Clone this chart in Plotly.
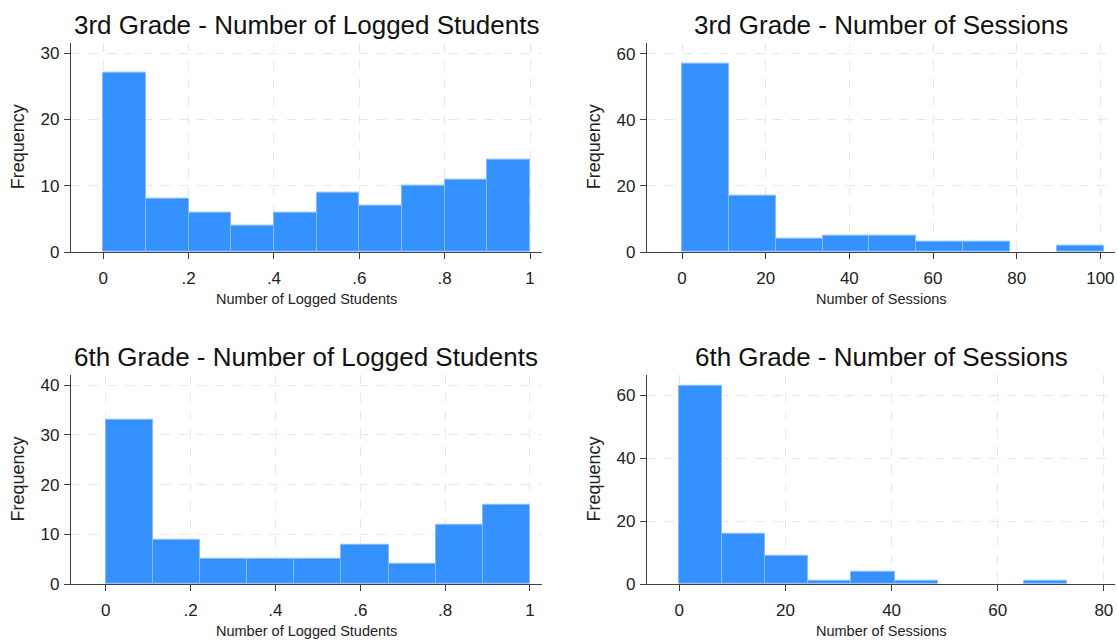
import plotly.graph_objects as go

# Histogram counts per bin (equal-width bins starting at 0)
g3_logged_counts = [27, 8, 6, 4, 6, 9, 7, 10, 11, 14]
g3_logged_start, g3_logged_width = 0.0, 0.1

g3_sessions_counts = [57, 17, 4, 5, 5, 3, 3, 0, 2]
g3_sessions_start, g3_sessions_width = 0.0, 100.8 / 9

g6_logged_counts = [33, 9, 5, 5, 5, 8, 4, 12, 16]
g6_logged_start, g6_logged_width = 0.0, 1 / 9

g6_sessions_counts = [63, 16, 9, 1, 4, 1, 0, 0, 1]
g6_sessions_start, g6_sessions_width = 0.0, 73 / 9

# Tick values and labels
logged_ticks = [0, 0.2, 0.4, 0.6, 0.8, 1]
logged_ticklabels = ["0", ".2", ".4", ".6", ".8", "1"]
g3_sessions_ticks = [0, 20, 40, 60, 80, 100]
g6_sessions_ticks = [0, 20, 40, 60, 80]

titles = [
    "3rd Grade - Number of Logged Students",
    "3rd Grade - Number of Sessions",
    "6th Grade - Number of Logged Students",
    "6th Grade - Number of Sessions",
]
xtitles = ["Number of Logged Students", "Number of Sessions",
           "Number of Logged Students", "Number of Sessions"]

W, H = 1117, 644
FONT = "Liberation Sans, Arial, sans-serif"
BAR_FILL = "#3591fe"
BAR_LINE = "#86bcff"
AXIS_COLOR = "#404040"
GRID_COLOR = "#e8e8e8"

# Plot-area boxes in pixels: (left, right, top, bottom)
boxes = [
    (71, 541.7, 43.3, 256),
    (647, 1115, 43.3, 256),
    (71, 541.7, 380.7, 593.3),
    (647, 1115, 380.7, 593.3),
]

panels = [
    (g3_logged_counts, g3_logged_start, g3_logged_width,
     [-0.0757, 1.0274], [0, 31.6], logged_ticks, logged_ticklabels, [0, 10, 20, 30]),
    (g3_sessions_counts, g3_sessions_start, g3_sessions_width,
     [-8.37, 103.5], [0, 63.3], g3_sessions_ticks,
     [str(t) for t in g3_sessions_ticks], [0, 20, 40, 60]),
    (g6_logged_counts, g6_logged_start, g6_logged_width,
     [-0.0818, 1.0276], [0, 42.1], logged_ticks, logged_ticklabels, [0, 10, 20, 30, 40]),
    (g6_sessions_counts, g6_sessions_start, g6_sessions_width,
     [-6.09, 82.1], [0, 66.6], g6_sessions_ticks,
     [str(t) for t in g6_sessions_ticks], [0, 20, 40, 60]),
]

fig = go.Figure()
annotations = []


def px_x(x):
    return x / W


def px_y(y):
    return 1 - y / H


for i, (counts, start, width, xr, yr, xt, xtl, yt) in enumerate(panels):
    n = i + 1
    xa = "x" if n == 1 else f"x{n}"
    ya = "y" if n == 1 else f"y{n}"
    centers = [start + width * (k + 0.5) for k in range(len(counts))]
    # empty bins get no outline so they stay invisible
    outline_w = [1 if c > 0 else 0 for c in counts]
    fig.add_trace(go.Bar(
        x=centers, y=counts, width=width,
        marker=dict(color=BAR_FILL, line=dict(color=BAR_LINE, width=outline_w)),
        xaxis=xa, yaxis=ya, showlegend=False, hoverinfo="x+y",
    ))
    l, r, t, b = boxes[i]
    axis_common = dict(
        showline=True, linecolor=AXIS_COLOR, linewidth=1.3,
        ticks="outside", ticklen=6, tickcolor=AXIS_COLOR, tickwidth=1.3,
        showgrid=True, gridcolor=GRID_COLOR, griddash="dash", gridwidth=1,
        zeroline=False,
        tickfont=dict(family=FONT, size=17, color="#222222"),
    )
    fig.update_layout(**{
        ("xaxis" if n == 1 else f"xaxis{n}"): dict(
            domain=[px_x(l), px_x(r)], range=xr, tickmode="array",
            tickvals=xt, ticktext=xtl, anchor=ya, ticklabelstandoff=4,
            **axis_common),
        ("yaxis" if n == 1 else f"yaxis{n}"): dict(
            domain=[px_y(b), px_y(t)], range=yr, tickmode="array",
            tickvals=yt, ticktext=[str(v) for v in yt], anchor=xa,
            ticklabelstandoff=1, **axis_common),
    })
    cx = (l + r) / 2
    cy = (t + b) / 2
    annotations.append(dict(
        text=titles[i], x=px_x(cx), y=px_y(t - 18), xref="paper", yref="paper",
        xanchor="center", yanchor="middle", showarrow=False,
        font=dict(family=FONT, size=26, color="#111111")))
    annotations.append(dict(
        text=xtitles[i], x=px_x(cx), y=px_y(b + 48), xref="paper", yref="paper",
        xanchor="center", yanchor="middle", showarrow=False,
        font=dict(family=FONT, size=14.5, color="#222222")))
    annotations.append(dict(
        text="Frequency", x=px_x(l - 53), y=px_y(cy), xref="paper", yref="paper",
        xanchor="center", yanchor="middle", showarrow=False, textangle=-90,
        font=dict(family=FONT, size=18, color="#222222")))

fig.update_layout(
    width=W, height=H,
    margin=dict(l=0, r=0, t=0, b=0),
    paper_bgcolor="white", plot_bgcolor="white",
    bargap=0, annotations=annotations,
    font=dict(family=FONT),
)

fig.write_html("out.html")
